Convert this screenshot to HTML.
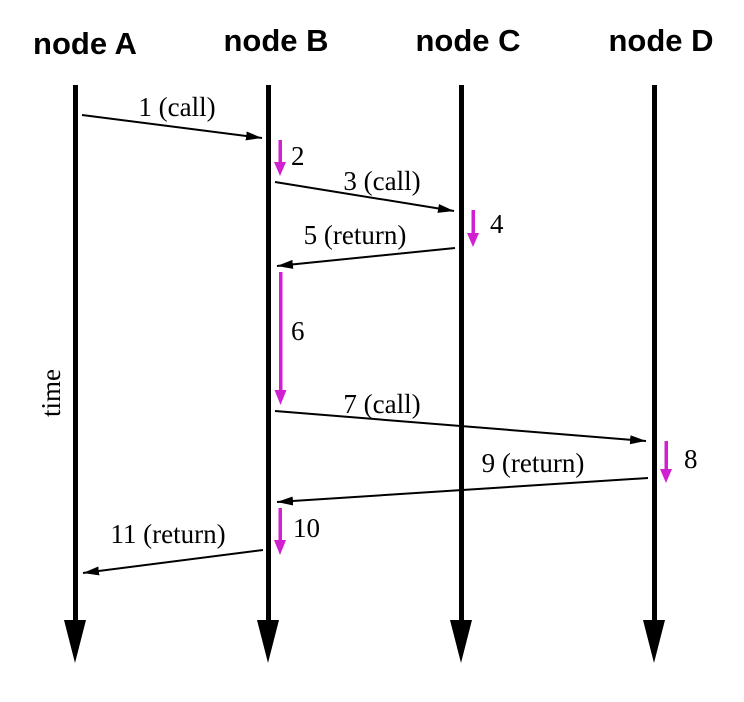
<!DOCTYPE html>
<html><head><style>body{margin:0;background:#fff}svg{display:block}</style></head>
<body>
<svg width="744" height="702" xmlns="http://www.w3.org/2000/svg">
<defs>
<marker id="a" markerWidth="16" markerHeight="10" refX="16" refY="5" orient="auto" markerUnits="userSpaceOnUse"><path d="M0,0.5 L16,5 L0,9.5 z"/></marker>
</defs>
<g font-family="Liberation Sans, sans-serif" font-weight="bold" font-size="31" text-anchor="middle">
<text x="85" y="54">node A</text><text x="276" y="51">node B</text><text x="468" y="51">node C</text><text x="661" y="51">node D</text>
</g>
<g fill="#000">
<rect x="73" y="85" width="5" height="540"/><polygon points="64,620 86,620 75,663"/>
<rect x="266" y="85" width="5" height="540"/><polygon points="257,620 279,620 268,663"/>
<rect x="459" y="85" width="5" height="540"/><polygon points="450,620 472,620 461,663"/>
<rect x="652" y="85" width="5" height="540"/><polygon points="643,620 665,620 654,663"/>
</g>
<g stroke="#000" stroke-width="2" fill="none">
<line x1="82" y1="115" x2="262" y2="138" marker-end="url(#a)"/>
<line x1="275" y1="182" x2="454" y2="211" marker-end="url(#a)"/>
<line x1="455" y1="248" x2="277" y2="266" marker-end="url(#a)"/>
<line x1="275" y1="411" x2="646" y2="441" marker-end="url(#a)"/>
<line x1="648" y1="478" x2="277" y2="502" marker-end="url(#a)"/>
<line x1="263" y1="550" x2="83" y2="573" marker-end="url(#a)"/>
</g>
<g fill="#d020d0">
<rect x="278.5" y="140" width="3.5" height="24"/><polygon points="274,162 286,162 280,176"/>
<rect x="471.5" y="210" width="3.5" height="25"/><polygon points="467,233 479,233 473,247"/>
<rect x="279" y="272" width="3.5" height="121"/><polygon points="274.5,390 286.5,390 280.5,405"/>
<rect x="664.5" y="441" width="3.5" height="30"/><polygon points="660,469 672,469 666,483"/>
<rect x="278.5" y="508" width="3.5" height="34"/><polygon points="274,540 286,540 280,555"/>
</g>
<g font-family="Liberation Serif, serif" font-size="27">
<text x="177" y="116" text-anchor="middle">1 (call)</text>
<text x="291" y="165">2</text>
<text x="382" y="190" text-anchor="middle">3 (call)</text>
<text x="490" y="233">4</text>
<text x="355" y="244" text-anchor="middle">5 (return)</text>
<text x="291" y="340">6</text>
<text x="382" y="413" text-anchor="middle">7 (call)</text>
<text x="684" y="468">8</text>
<text x="533" y="472" text-anchor="middle">9 (return)</text>
<text x="293" y="537">10</text>
<text x="168" y="543" text-anchor="middle">11 (return)</text>
<text transform="translate(60,393) rotate(-90)" text-anchor="middle">time</text>
</g>
</svg>
</body></html>
